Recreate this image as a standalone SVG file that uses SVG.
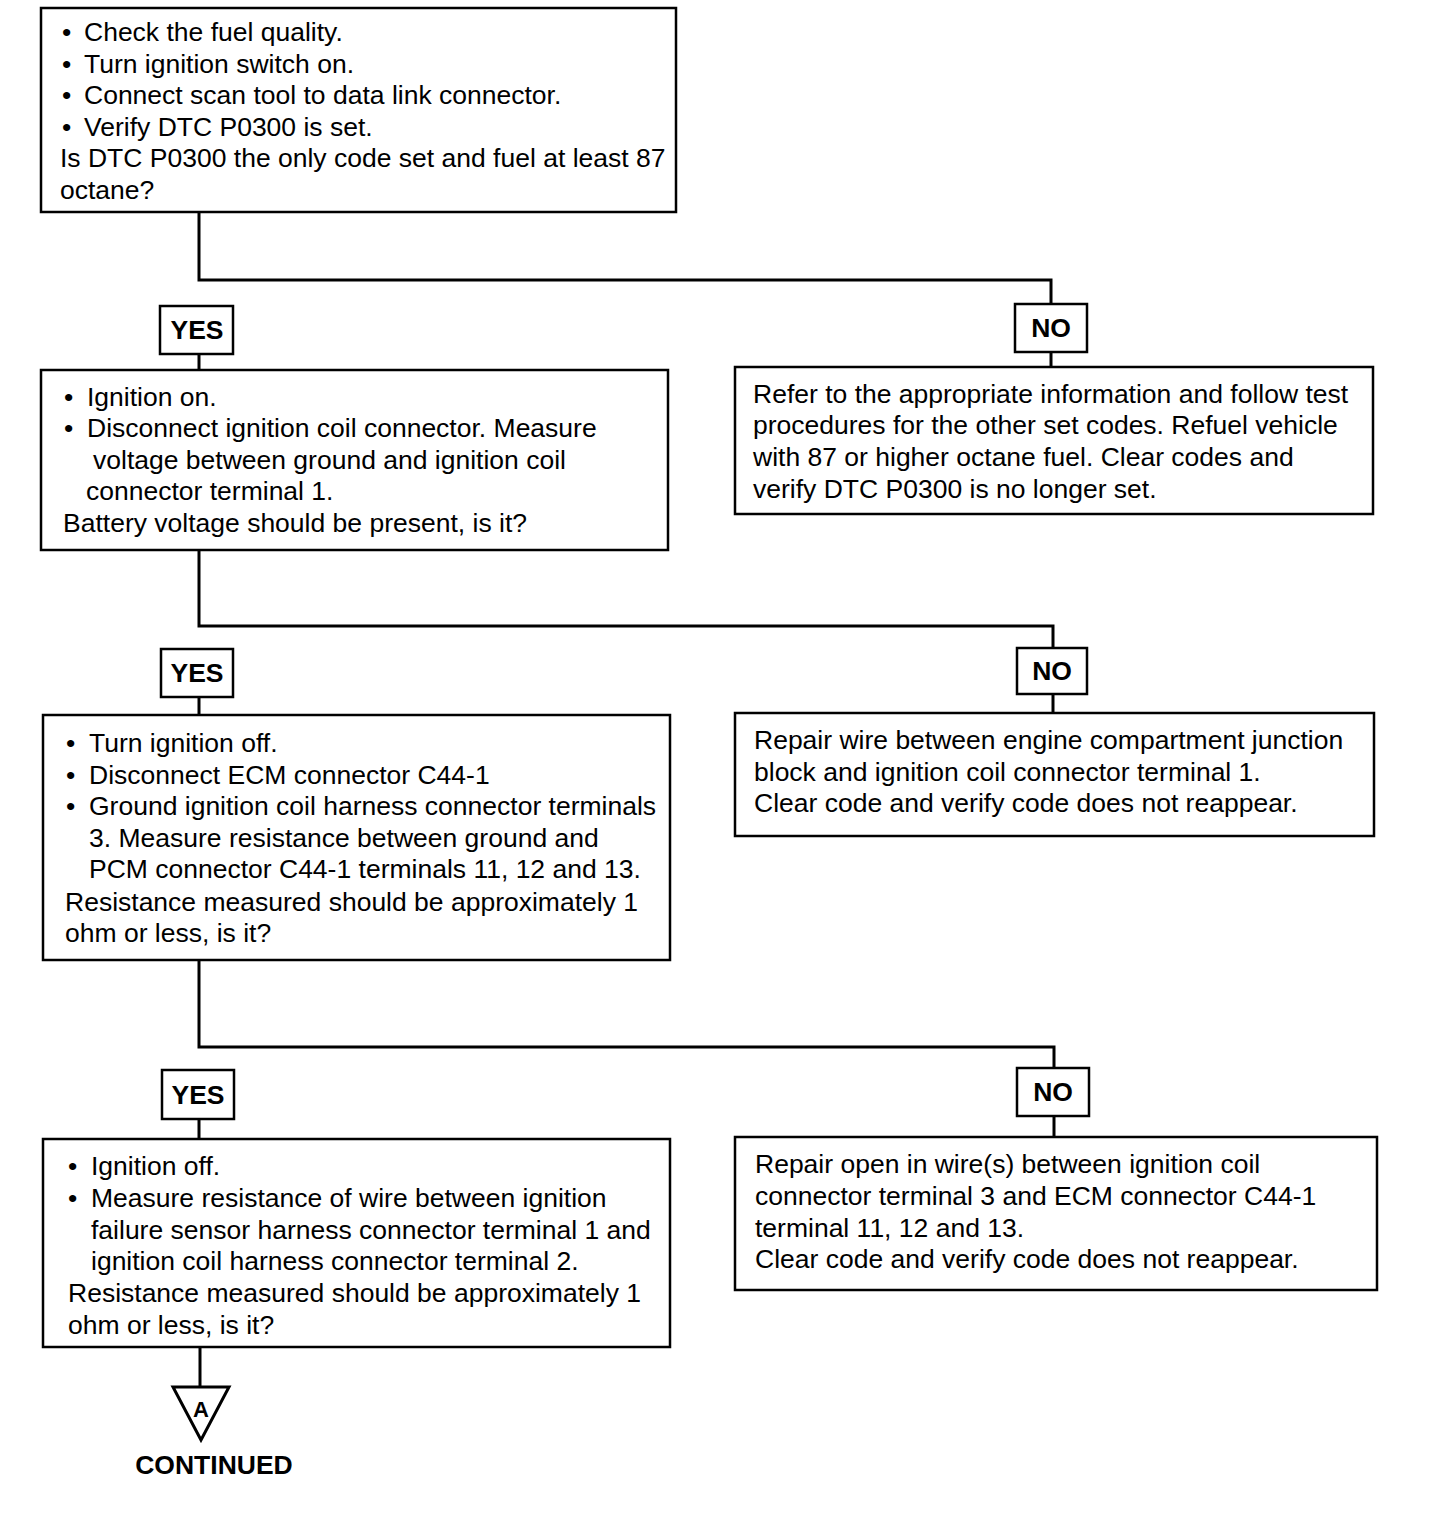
<svg xmlns="http://www.w3.org/2000/svg" width="1440" height="1516" viewBox="0 0 1440 1516">
<style>
.box{fill:#fff;stroke:#000;stroke-width:2.5}
.lbl{fill:#fff;stroke:#000;stroke-width:2.5}
.t{font-family:"Liberation Sans",Arial,sans-serif;font-size:26.5px;fill:#000}
.b{font-family:"Liberation Sans",Arial,sans-serif;font-size:26.5px;font-weight:bold;fill:#000;text-anchor:middle}
.c{fill:none;stroke:#000;stroke-width:3}
</style>
<rect width="1440" height="1516" fill="#fff"/>
<g id="connectors">
<polyline class="c" points="199,212 199,280 1051,280 1051,304"/>
<line class="c" x1="199" y1="354" x2="199" y2="370"/>
<line class="c" x1="1051" y1="352" x2="1051" y2="367"/>
<polyline class="c" points="199,550 199,626 1053,626 1053,648"/>
<line class="c" x1="199" y1="697" x2="199" y2="715"/>
<line class="c" x1="1053" y1="694" x2="1053" y2="713"/>
<polyline class="c" points="199,960 199,1047 1054,1047 1054,1068"/>
<line class="c" x1="199" y1="1119" x2="199" y2="1139"/>
<line class="c" x1="1054" y1="1116" x2="1054" y2="1137"/>
<line class="c" x1="200" y1="1347" x2="200" y2="1387"/>
</g>
<g id="box1">
<rect class="box" x="41" y="8" width="635" height="204"/>
<text class="t" x="62" y="41">•</text><text class="t" x="84" y="41">Check the fuel quality.</text>
<text class="t" x="62" y="73">•</text><text class="t" x="84" y="73">Turn ignition switch on.</text>
<text class="t" x="62" y="104">•</text><text class="t" x="84" y="104">Connect scan tool to data link connector.</text>
<text class="t" x="62" y="136">•</text><text class="t" x="84" y="136">Verify DTC P0300 is set.</text>
<text class="t" x="60" y="167">Is DTC P0300 the only code set and fuel at least 87</text>
<text class="t" x="60" y="199">octane?</text>
</g>
<g id="yes1"><rect class="lbl" x="160" y="306" width="73" height="48"/><text class="b" x="197" y="339">YES</text></g>
<g id="no1"><rect class="lbl" x="1015" y="304" width="72" height="48"/><text class="b" x="1051" y="337">NO</text></g>
<g id="box2">
<rect class="box" x="41" y="370" width="627" height="180"/>
<text class="t" x="64" y="406">•</text><text class="t" x="87" y="406">Ignition on.</text>
<text class="t" x="64" y="437">•</text><text class="t" x="87" y="437">Disconnect ignition coil connector. Measure</text>
<text class="t" x="93" y="469">voltage between ground and ignition coil</text>
<text class="t" x="86" y="500">connector terminal 1.</text>
<text class="t" x="63" y="532">Battery voltage should be present, is it?</text>
</g>
<g id="right1">
<rect class="box" x="735" y="367" width="638" height="147"/>
<text class="t" x="753" y="403">Refer to the appropriate information and follow test</text>
<text class="t" x="753" y="434">procedures for the other set codes. Refuel vehicle</text>
<text class="t" x="753" y="466">with 87 or higher octane fuel. Clear codes and</text>
<text class="t" x="753" y="498">verify DTC P0300 is no longer set.</text>
</g>
<g id="yes2"><rect class="lbl" x="161" y="649" width="72" height="48"/><text class="b" x="197" y="682">YES</text></g>
<g id="no2"><rect class="lbl" x="1017" y="648" width="70" height="46"/><text class="b" x="1052" y="680">NO</text></g>
<g id="box3">
<rect class="box" x="43" y="715" width="627" height="245"/>
<text class="t" x="66" y="752">•</text><text class="t" x="89" y="752">Turn ignition off.</text>
<text class="t" x="66" y="784">•</text><text class="t" x="89" y="784">Disconnect ECM connector C44-1</text>
<text class="t" x="66" y="815">•</text><text class="t" x="89" y="815">Ground ignition coil harness connector terminals</text>
<text class="t" x="89" y="847">3. Measure resistance between ground and</text>
<text class="t" x="89" y="878">PCM connector C44-1 terminals 11, 12 and 13.</text>
<text class="t" x="65" y="911">Resistance measured should be approximately 1</text>
<text class="t" x="65" y="942">ohm or less, is it?</text>
</g>
<g id="right2">
<rect class="box" x="735" y="713" width="639" height="123"/>
<text class="t" x="754" y="749">Repair wire between engine compartment junction</text>
<text class="t" x="754" y="781">block and ignition coil connector terminal 1.</text>
<text class="t" x="754" y="812">Clear code and verify code does not reappear.</text>
</g>
<g id="yes3"><rect class="lbl" x="162" y="1070" width="72" height="49"/><text class="b" x="198" y="1104">YES</text></g>
<g id="no3"><rect class="lbl" x="1017" y="1068" width="72" height="48"/><text class="b" x="1053" y="1101">NO</text></g>
<g id="box4">
<rect class="box" x="43" y="1139" width="627" height="208"/>
<text class="t" x="68" y="1175">•</text><text class="t" x="91" y="1175">Ignition off.</text>
<text class="t" x="68" y="1207">•</text><text class="t" x="91" y="1207">Measure resistance of wire between ignition</text>
<text class="t" x="91" y="1239">failure sensor harness connector terminal 1 and</text>
<text class="t" x="91" y="1270">ignition coil harness connector terminal 2.</text>
<text class="t" x="68" y="1302">Resistance measured should be approximately 1</text>
<text class="t" x="68" y="1334">ohm or less, is it?</text>
</g>
<g id="right3">
<rect class="box" x="735" y="1137" width="642" height="153"/>
<text class="t" x="755" y="1173">Repair open in wire(s) between ignition coil</text>
<text class="t" x="755" y="1205">connector terminal 3 and ECM connector C44-1</text>
<text class="t" x="755" y="1237">terminal 11, 12 and 13.</text>
<text class="t" x="755" y="1268">Clear code and verify code does not reappear.</text>
</g>
<g id="connectorA">
<polygon points="173,1387 229,1387 201,1440" fill="#fff" stroke="#000" stroke-width="3" stroke-linejoin="miter"/>
<text class="b" x="201" y="1417" style="font-size:22px">A</text>
<text class="b" x="214" y="1474">CONTINUED</text>
</g>
</svg>
